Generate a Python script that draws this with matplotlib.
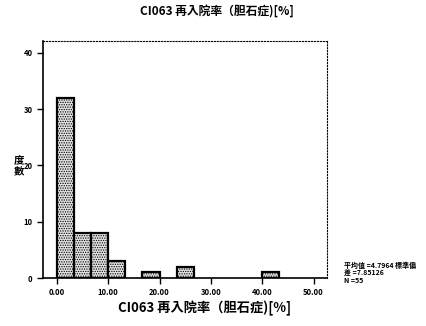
import numpy as np
import matplotlib
matplotlib.use("Agg")
import matplotlib.pyplot as plt

plt.rcParams['font.family'] = ['Noto Sans CJK TC', 'DejaVu Sans']
plt.rcParams['hatch.color'] = '#9a9a9a'
plt.rcParams['hatch.linewidth'] = 0.6

# histogram data (bin width 10/3)
bin_width = 10.0 / 3.0
bin_index = [0, 1, 2, 3, 4, 5, 6, 7, 8, 9, 10, 11, 12]
counts = [32, 8, 8, 3, 0, 1, 0, 2, 0, 0, 0, 0, 1]
xticks = [0, 10, 20, 30, 40, 50]
xtick_labels = ['0.00', '10.00', '20.00', '30.00', '40.00', '50.00']
yticks = [0, 10, 20, 30, 40]

title = 'CI063 再入院率（胆石症)[%]'
xlabel = 'CI063 再入院率（胆石症)[%]'
ylabel = '度\n數'
stats = '平均值 =4.7964 標準偏\n差 =7.85126\nN =55'

fig = plt.figure(figsize=(4.27, 3.26), dpi=100)
ax = fig.add_axes([0.1007, 0.1472, 0.665, 0.727])

lefts = np.array(bin_index) * bin_width
cnts = np.array(counts)
mask = cnts > 0
ax.bar(lefts[mask], cnts[mask], width=bin_width, align='edge',
       facecolor='#e2e2e2', edgecolor='black', linewidth=1.6,
       hatch='.......')

ax.set_xlim(-2.7, 52.6)
ax.set_ylim(0, 42.1)
ax.set_xticks(xticks)
ax.set_xticklabels(xtick_labels, fontsize=5.5, fontweight='bold')
ax.set_yticks(yticks)
ax.set_yticklabels([str(v) for v in yticks], fontsize=5.5, fontweight='bold')
ax.tick_params(direction='out', length=4, width=1)

for s in ['left', 'bottom']:
    ax.spines[s].set_linewidth(1.2)
for s in ['top', 'right']:
    ax.spines[s].set_linestyle(':')
    ax.spines[s].set_linewidth(0.8)

fig.text(0.507, 0.963, title, ha='center', va='center', fontsize=8.5, fontweight='bold')
fig.text(0.478, 0.055, xlabel, ha='center', va='center', fontsize=9.5, fontweight='bold')
fig.text(0.045, 0.49, ylabel, ha='center', va='center', fontsize=7.5, fontweight='bold',
         linespacing=1.1)
fig.text(0.805, 0.163, stats, ha='left', va='center', fontsize=5, fontweight='bold',
         linespacing=1.1)

fig.savefig('out.png', dpi=100)
